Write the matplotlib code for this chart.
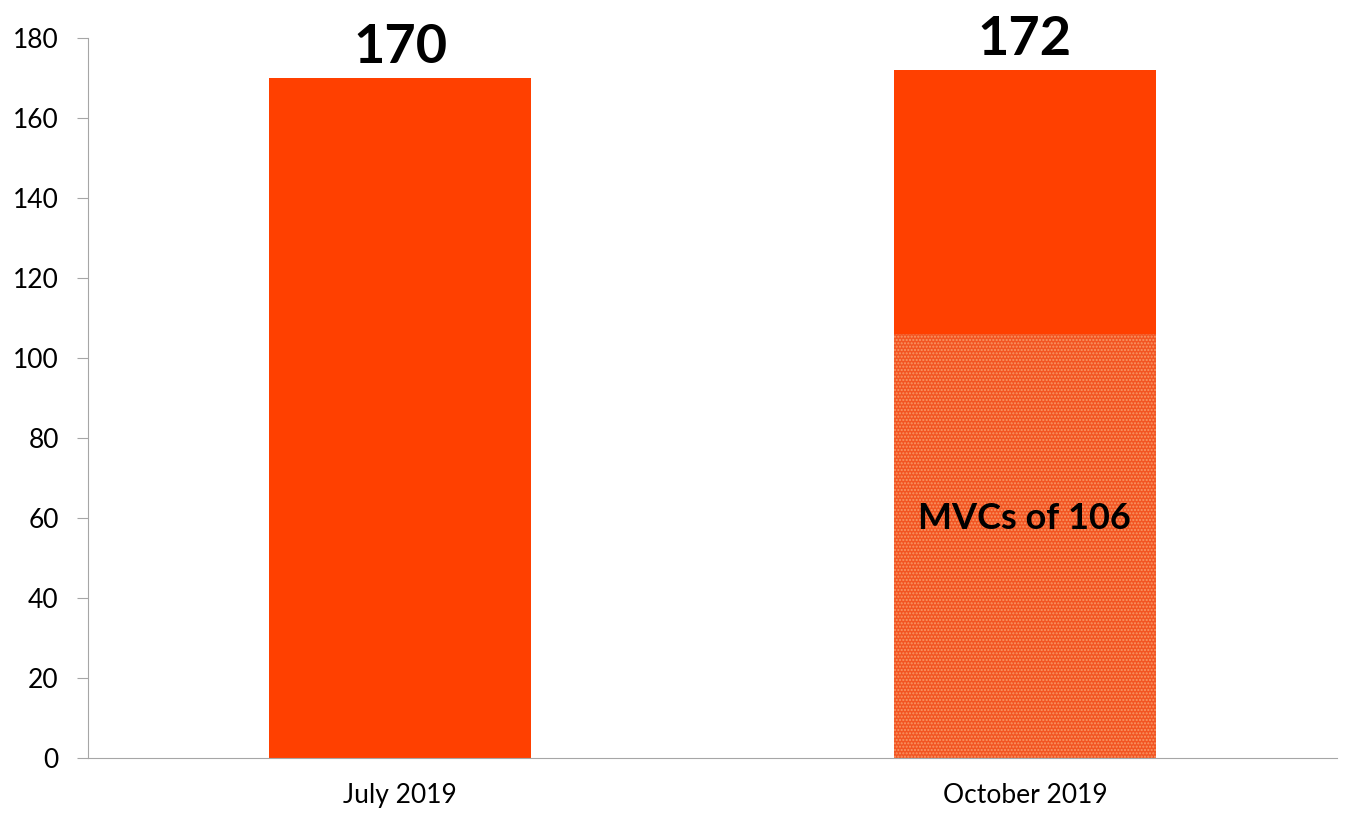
import numpy as np
import matplotlib
matplotlib.use('Agg')
import matplotlib.pyplot as plt

plt.rcParams['font.family'] = ['Lato', 'DejaVu Sans']
plt.rcParams['hatch.linewidth'] = 1.0

# 数据
categories = ['July 2019', 'October 2019']
totals = [170, 172]
mvc = [0, 106]          # 带纹理的底部部分
rest = [t - m for t, m in zip(totals, mvc)]
mvc_label = 'MVCs of 106'

fig = plt.figure(figsize=(13.49, 8.19), dpi=100)
ax = fig.add_axes([0.0652, 0.0745, 0.926, 0.879])

x = np.arange(len(categories))
w = 0.42
orange = '#FF4000'

# 底部纹理段
ax.bar(x, mvc, w, color='#F25522', edgecolor='#F99866', hatch='.....', linewidth=0)
# 上部实心段
ax.bar(x, rest, w, bottom=mvc, color=orange, linewidth=0)

# 总数标签
for xi, t in zip(x, totals):
    ax.text(xi, t + 1.5, str(t), ha='center', va='bottom', fontsize=39,
            fontweight='bold', color='black')

ax.text(x[1], 60, mvc_label, ha='center', va='center', fontsize=26,
        fontweight='bold', color='black')

ax.set_xlim(-0.5, 1.5)
ax.set_ylim(0, 180)
ax.set_yticks(np.arange(0, 181, 20))
ax.set_xticks(x)
ax.set_xticklabels(categories)

for s in ['top', 'right']:
    ax.spines[s].set_visible(False)
ax.spines['left'].set_color('#A6A6A6')
ax.spines['bottom'].set_color('#A6A6A6')
ax.tick_params(axis='y', length=8, color='#A6A6A6', labelsize=19, pad=13)
ax.tick_params(axis='x', length=0, labelsize=19, pad=18)

plt.savefig('out.png', dpi=100)
